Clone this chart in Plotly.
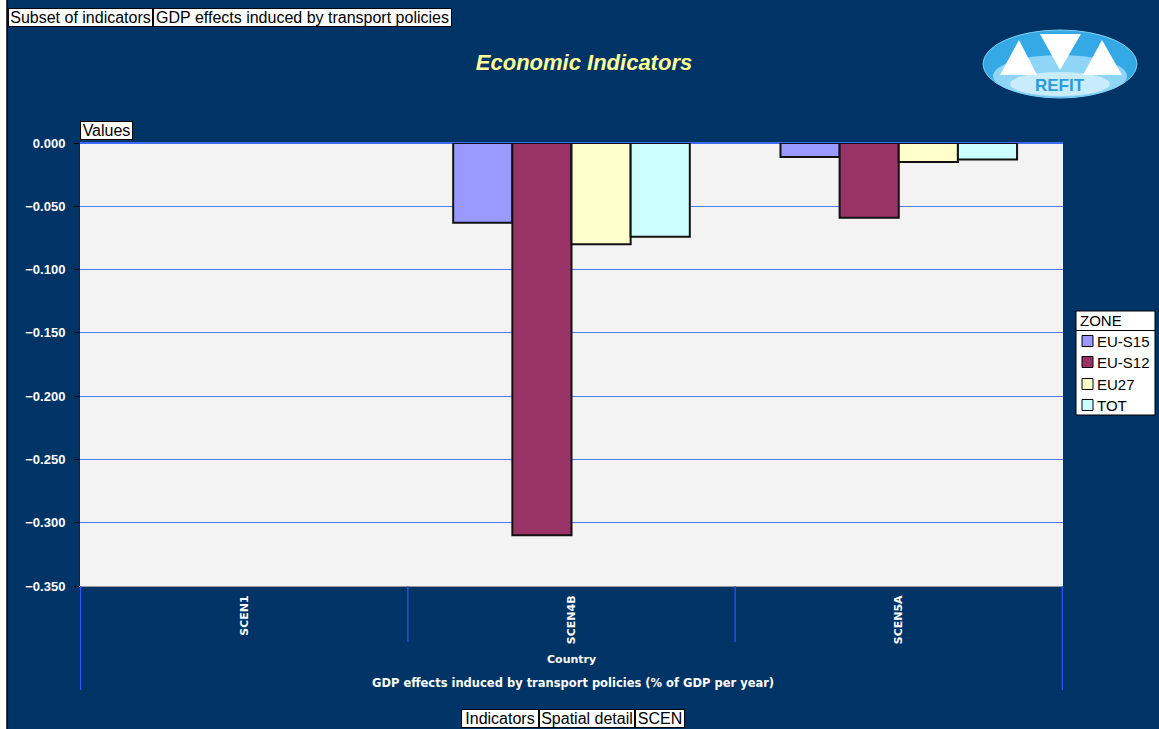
import plotly.graph_objects as go

# Scenario categories and GDP effects (% of GDP per year) per zone
scenarios = ["SCEN1", "SCEN4B", "SCEN5A"]
eu_s15 = [None, -0.063, -0.011]
eu_s12 = [None, -0.310, -0.059]
eu27 = [None, -0.080, -0.015]
tot = [None, -0.074, -0.013]

zones = ["EU-S15", "EU-S12", "EU27", "TOT"]
zone_values = [eu_s15, eu_s12, eu27, tot]
zone_colors = ["#9999FF", "#993366", "#FFFFCC", "#CCFFFF"]

y_ticks = [0.0, -0.05, -0.10, -0.15, -0.20, -0.25, -0.30, -0.35]

W, H = 1159, 729
L, R, T, B = 80, 1063, 143, 586  # plot area in pixels
NAVY = "#003366"


def px(x):
    return (x - L) / (R - L)


def py(y):
    return (B - y) / (B - T)


fig = go.Figure()
for name, vals, col in zip(zones, zone_values, zone_colors):
    fig.add_trace(go.Bar(
        name=name, x=scenarios, y=vals, showlegend=False,
        marker=dict(color=col, line=dict(color="#111111", width=2)),
    ))

shapes = []
# white strip along the left edge
shapes.append(dict(type="rect", xref="paper", yref="paper",
                   x0=px(-2), x1=px(7), y0=py(H + 2), y1=py(-2),
                   fillcolor="white", line=dict(width=0), layer="below"))
shapes.append(dict(type="line", xref="paper", yref="paper",
                   x0=px(7), x1=px(7), y0=py(H + 2), y1=py(-2),
                   line=dict(color="black", width=1.5)))

# category separators below the plot area
for i, xc in enumerate([-0.5, 0.5, 1.5, 2.5]):
    bottom = 690 if i in (0, 3) else 642
    shapes.append(dict(type="line", xref="x", yref="paper",
                       x0=xc, x1=xc, y0=0, y1=py(bottom),
                       line=dict(color="#3355ff", width=1.2)))

# logo: ellipse with three triangles
shapes.append(dict(type="circle", xref="paper", yref="paper",
                   x0=px(983), x1=px(1137), y0=py(98), y1=py(30),
                   fillcolor="#35a8e6", line=dict(color="#7fd0f5", width=1)))
shapes.append(dict(type="circle", xref="paper", yref="paper",
                   x0=px(993), x1=px(1127), y0=py(97), y1=py(55),
                   fillcolor="#8fd6f6", line=dict(width=0)))
shapes.append(dict(type="circle", xref="paper", yref="paper",
                   x0=px(1010), x1=px(1110), y0=py(96), y1=py(72),
                   fillcolor="#c8ecfb", line=dict(width=0)))


def tri(pts):
    d = "M " + " L ".join(f"{px(a)},{py(b)}" for a, b in pts) + " Z"
    return dict(type="path", xref="paper", yref="paper", path=d,
                fillcolor="white", line=dict(width=0))


shapes.append(tri([(1019, 40), (1000, 75), (1037, 75)]))
shapes.append(tri([(1040, 34), (1081, 34), (1060, 70)]))
shapes.append(tri([(1102, 40), (1083, 75), (1122, 75)]))

# legend frame, title separator and colour swatches
LEG_X0, LEG_X1, LEG_Y0, LEG_Y1 = 1076, 1155, 311, 415
shapes.append(dict(type="rect", xref="paper", yref="paper",
                   x0=px(LEG_X0), x1=px(LEG_X1), y0=py(LEG_Y1), y1=py(LEG_Y0),
                   fillcolor="white", line=dict(color="black", width=1)))
shapes.append(dict(type="line", xref="paper", yref="paper",
                   x0=px(LEG_X0), x1=px(LEG_X1), y0=py(330.5), y1=py(330.5),
                   line=dict(color="black", width=1)))
legend_rows = [341, 362, 384, 405]
for yc, col in zip(legend_rows, zone_colors):
    shapes.append(dict(type="rect", xref="paper", yref="paper",
                       x0=px(1082), x1=px(1093), y0=py(yc + 5.5),
                       y1=py(yc - 5.5), fillcolor=col,
                       line=dict(color="black", width=1)))

annotations = []


def box(text, x_left, x_right, y_mid, size=16):
    annotations.append(dict(
        text=text, xref="paper", yref="paper", x=px(x_left), y=py(y_mid),
        xanchor="left", yanchor="middle", showarrow=False,
        width=x_right - x_left - 2, height=17, align="center",
        font=dict(family="Arial, Liberation Sans", size=size, color="black"),
        bgcolor="white", bordercolor="black", borderwidth=1, borderpad=0,
    ))


box("Subset of indicators", 8, 153, 17.5)
box("GDP effects induced by transport policies", 153, 452, 17.5)
box("Values", 80, 133, 130)
box("Indicators", 461, 539, 718)
box("Spatial detail", 539, 635, 718)
box("SCEN", 635, 685, 718)


def label(text, x, y, size, **font):
    annotations.append(dict(
        text=text, xref="paper", yref="paper", x=px(x), y=py(y),
        xanchor="left", yanchor="middle", showarrow=False,
        font=dict(family="Arial, Liberation Sans", size=size, color="black",
                  **font)))


label("ZONE", 1078, 320.5, 15)
for yc, name in zip(legend_rows, zones):
    label(name, 1095, yc, 15)

annotations.append(dict(
    text="Country", xref="paper", yref="paper", x=px(571), y=py(659),
    xanchor="center", yanchor="middle", showarrow=False,
    font=dict(family="DejaVu Sans", size=11, color="white", weight="bold")))
annotations.append(dict(
    text="GDP effects induced by transport policies (% of GDP per year)",
    xref="paper", yref="paper", x=px(573), y=py(683),
    xanchor="center", yanchor="middle", showarrow=False,
    font=dict(family="DejaVu Sans", size=11.5, color="white",
              weight="bold")))
annotations.append(dict(
    text="REFIT", xref="paper", yref="paper", x=px(1060), y=py(86),
    xanchor="center", yanchor="middle", showarrow=False,
    font=dict(family="Arial", size=17, color="#2a9be0", weight="bold")))

fig.update_layout(
    width=W, height=H,
    margin=dict(l=L, r=W - R, t=T, b=H - B, autoexpand=False),
    paper_bgcolor=NAVY,
    plot_bgcolor="#f3f3f3",
    showlegend=False,
    barmode="group", bargap=0.277, bargroupgap=0,
    title=dict(text="Economic Indicators", x=px(584), xref="paper",
               xanchor="center", y=1 - 62 / H, yref="container",
               yanchor="middle",
               font=dict(family="Arial", size=22, color="#FFFF99",
                         weight="bold", style="italic")),
    xaxis=dict(
        tickangle=-90, showgrid=False, ticks="",
        tickfont=dict(family="DejaVu Sans", size=11, color="white",
                      weight="bold"),
        showline=True, linecolor="#999999", linewidth=1, mirror=False,
        ticklabelstandoff=4,
    ),
    yaxis=dict(
        range=[-0.35, 0], tickvals=y_ticks, tickformat=".3f",
        ticks="outside", ticklen=5, tickcolor="black",
        showline=True, linecolor="#222222", linewidth=1,
        gridcolor="#4d79ff", gridwidth=1,
        zeroline=True, zerolinecolor="#3d6bff", zerolinewidth=2,
        tickfont=dict(family="Arial", size=13, color="white", weight="bold"),
        ticklabelstandoff=6,
    ),
    shapes=shapes,
    annotations=annotations,
)

fig.write_html("out.html")
